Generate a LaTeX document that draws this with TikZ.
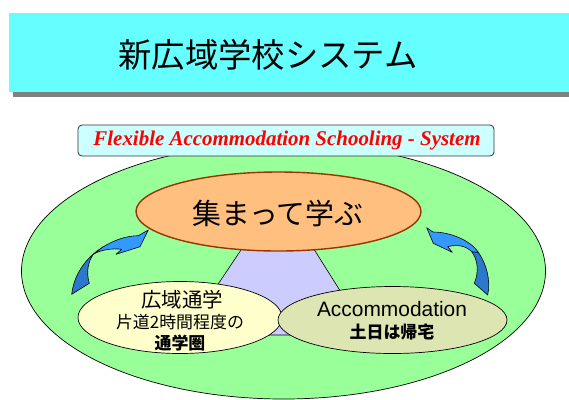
\documentclass[tikz,border=0pt]{standalone}
\usepackage{fontspec}
\usetikzlibrary{shapes.geometric}
\newfontfamily\jpf{Noto Sans CJK JP}
\newfontfamily\arialf{Liberation Sans}
\newfontfamily\timesf{Liberation Serif}
\definecolor{titlecyan}{HTML}{66FFFF}
\definecolor{shadowgray}{HTML}{808080}
\definecolor{boxcyan}{HTML}{CCFFFF}
\definecolor{biggreen}{HTML}{99FF99}
\definecolor{orangefill}{HTML}{FFBF7F}
\definecolor{orangeline}{HTML}{993300}
\definecolor{yellowfill}{HTML}{FFFFCC}
\definecolor{olivefill}{HTML}{DDE6B2}
\definecolor{lavender}{HTML}{CCCCFF}
\definecolor{arrowlight}{HTML}{3399FF}
\definecolor{arrowdark}{HTML}{2B78CF}
\tikzset{
  ell/.style={ellipse, draw=black, line width=0.7bp, inner sep=0pt},
  jptext/.style={font=\jpf, inner sep=0pt, text=black},
  arrowpart/.style={draw=black, line width=0.6bp, line join=round},
}
\begin{document}
\begin{tikzpicture}[x=1bp,y=-1bp]
\useasboundingbox (0,0) rectangle (569,399);
% title band
\fill[shadowgray] (13,92) rectangle (569,97);
\fill[titlecyan] (9,13) rectangle (569,92);
\node[jptext, font=\jpf\fontsize{33.5}{36}\selectfont] (title) at (268,55) {新広域学校システム};
% big green ellipse
\node[ell, fill=biggreen, minimum width=524bp, minimum height=256bp] (outer) at (283.5,271) {};
% flexible box
\node[draw=black!80, fill=boxcyan, rounded corners=4bp, line width=0.8bp,
      minimum width=416bp, minimum height=31bp, inner sep=0pt] (flexbox) at (286,140.5) {};
\node[font=\timesf\bfseries\itshape\fontsize{21}{24}\selectfont, text=red, inner sep=0pt] (flextext) at (287,140.5) {Flexible Accommodation Schooling - System};
% lavender trapezoid
\draw[fill=lavender, line width=0.6bp] (251,235) -- (305,235) -- (368,335) -- (184,335) -- cycle;
% orange ellipse
\node[ellipse, draw=orangeline, line width=1.4bp, fill=orangefill, inner sep=0pt,
      minimum width=285bp, minimum height=79bp] (gather) at (278.5,211.5) {};
\node[jptext, font=\jpf\fontsize{29}{32}\selectfont] (gathertext) at (278,213) {集まって学ぶ};
% left arrow
\draw[arrowpart, fill=arrowdark] (71.7,294.3) .. controls (74,275) and (85,258) .. (103.3,246.7)
   -- (93.3,254.3) .. controls (88,262) and (86,272) .. (89.3,283.3) -- cycle;
\draw[arrowpart, fill=arrowlight] (103.3,246.7) .. controls (115,240) and (125,236) .. (138.3,235.7)
   -- (148.3,230) -- (140,246.7) -- (116,254.3) -- (121.7,249.3)
   .. controls (112,248) and (100,250) .. (93.3,254.3) -- cycle;
% right arrow
\draw[arrowpart, fill=arrowdark] (478.3,252.3) .. controls (486,263) and (491,280) .. (487.7,295)
   -- (474.3,283.3) .. controls (479,272) and (478,260) .. (471.7,251.7) -- cycle;
\draw[arrowpart, fill=arrowlight] (426.7,227.7) -- (433.3,243.3) -- (452.3,252.3) -- (447.7,246.7)
   .. controls (458,244) and (466,246) .. (471.7,251.7) -- (478.3,252.3)
   .. controls (470,240) and (450,232) .. (433,232) -- cycle;
% left (yellow) ellipse
\node[ell, fill=yellowfill, minimum width=204bp, minimum height=72bp] (commute) at (180,317.5) {};
\node[jptext, font=\jpf\fontsize{20.5}{22}\selectfont] (commute1) at (182,300) {広域通学};
\node[jptext, font=\jpf\fontsize{17}{19}\selectfont] (commute2) at (180,322) {片道2時間程度の};
\node[jptext, font=\jpf\bfseries\fontsize{17}{19}\selectfont] (commute3) at (180,343) {通学圏};
% right (olive) ellipse
\node[ell, fill=olivefill, minimum width=229bp, minimum height=67bp] (accom) at (392.5,320) {};
\node[font=\arialf\fontsize{21}{24}\selectfont, inner sep=0pt] (accom1) at (392,309) {Accommodation};
\node[jptext, font=\jpf\bfseries\fontsize{17}{19}\selectfont] (accom2) at (392,332) {土日は帰宅};
\end{tikzpicture}
\end{document}
